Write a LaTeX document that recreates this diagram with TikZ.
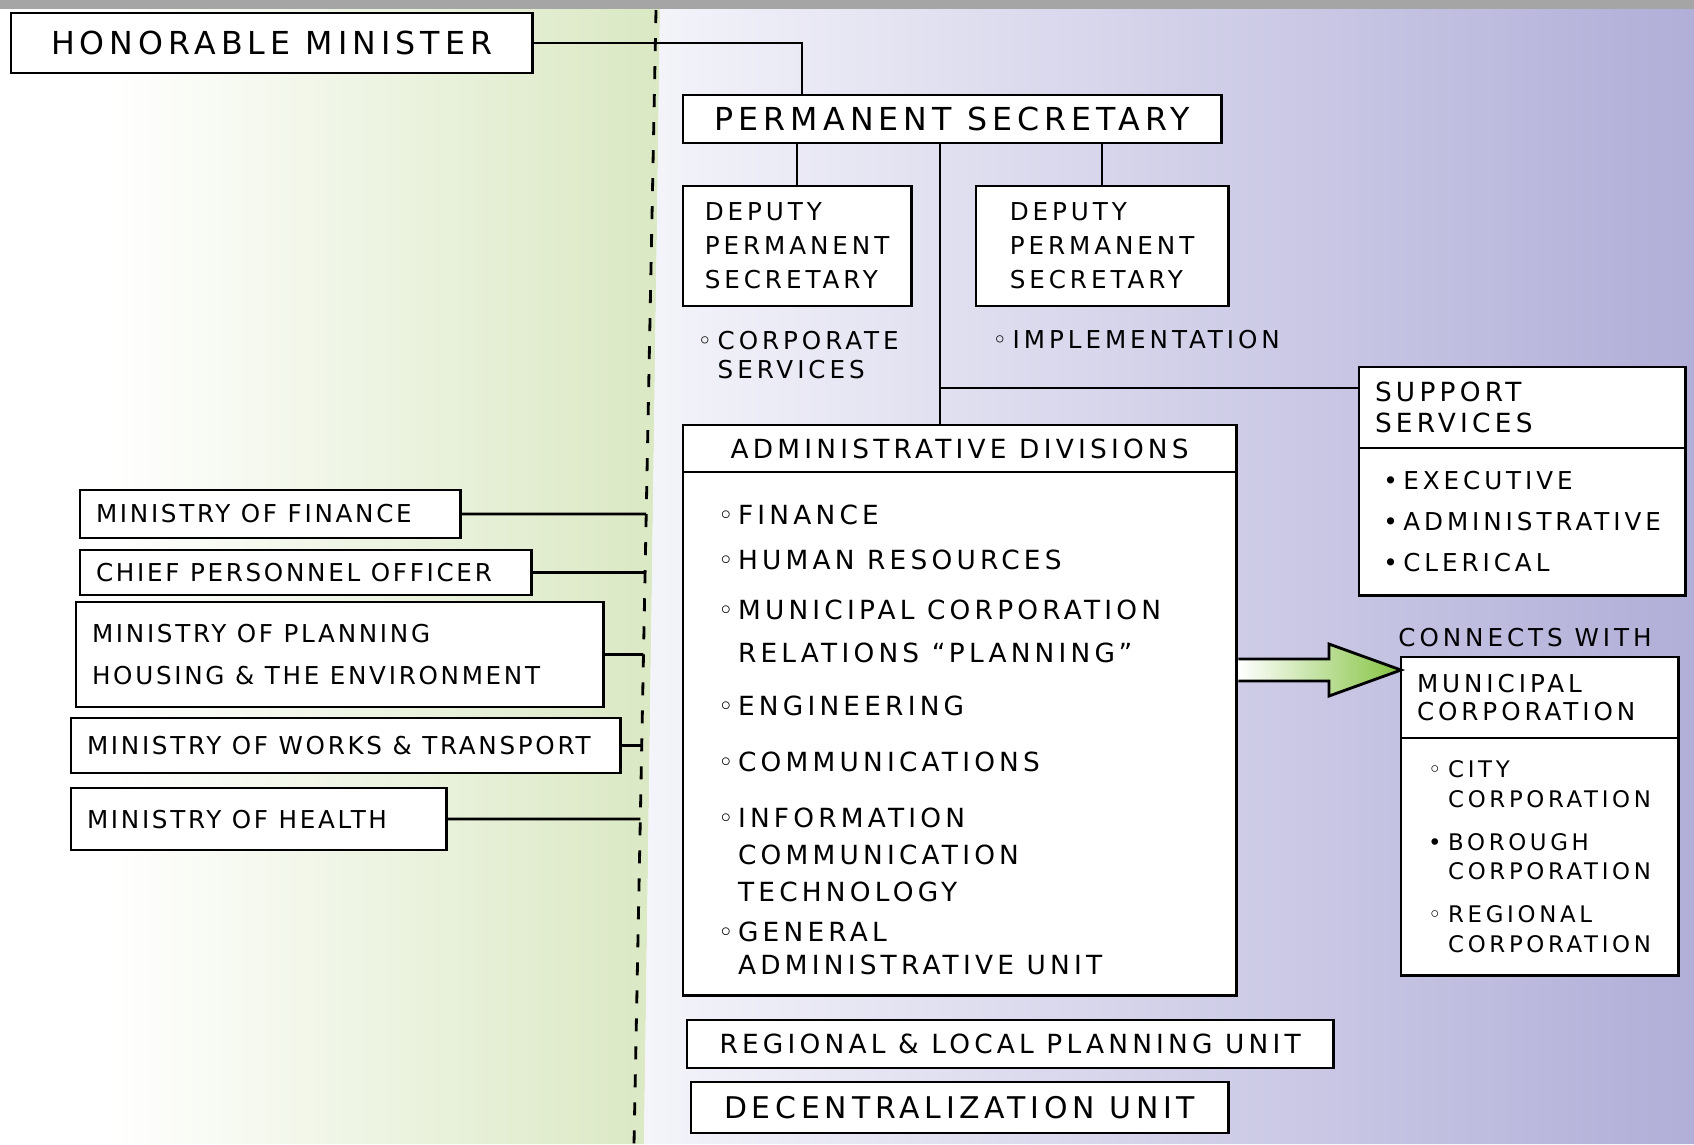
\documentclass[tikz,border=0pt]{standalone}
\usepackage{fontspec}
\usepackage{xcolor}
\usepackage{tikz}
\usetikzlibrary{shapes,arrows,positioning,calc}
\setmainfont{DejaVu Sans}
\newfontfamily\handwide{DejaVu Sans}[LetterSpace=16]
\newfontfamily\handnarrow{DejaVu Sans}[LetterSpace=11]
\newcommand{\handsize}[2]{\handwide\fontsize{#1}{#2}\selectfont}
\newcommand{\narrowsize}[2]{\handnarrow\fontsize{#1}{#2}\selectfont}
\newcommand{\obul}{\makebox[0.2cm][l]{◦}}
\newcommand{\fbul}{\makebox[0.2cm][l]{•}}
\newcommand{\indgap}{\hspace*{0.2cm}}
\definecolor{greenbg}{HTML}{DAE8C3}
\definecolor{lavlight}{HTML}{F4F4FA}
\definecolor{lavender}{HTML}{B1AED8}
\definecolor{graybar}{HTML}{A5A5A5}
\definecolor{arrowgreen}{HTML}{84C341}
\tikzstyle{box} = [draw, fill=white, rectangle, line width=0.8pt, outer sep=0pt,
inner xsep=0.16cm, inner ysep=0.08cm]
\tikzstyle{ministry} = [box, anchor=north west, align=flush left, font=\narrowsize{7}{9}]
\tikzstyle{note} = [inner sep=0pt, align=left, font=\handsize{7}{8.2}]
\tikzstyle{link} = [draw, line width=0.8pt]
\tikzstyle{divider} = [draw, line width=0.8pt, dash pattern=on 1.3mm off 1.5mm]

\begin{document}
\begin{tikzpicture}[x=0.01cm, y=-0.01cm]
\useasboundingbox (0,0) rectangle (1694,1144);

% Background
\fill [white] (0,0) rectangle (1694,1144);
\shade [left color=white, right color=greenbg] (110,9) -- (660,9) -- (644,1144) -- (110,1144) -- cycle;
\shade [left color=lavlight, right color=lavender] (660,9) -- (1694,9) -- (1694,1144) -- (644,1144) -- cycle;
\fill [graybar] (0,0) rectangle (1694,9);
\coordinate (divtop) at (656,10);
\coordinate (divbot) at (634,1144);
\draw [divider] (divtop) -- (divbot);

% Place nodes
\node [box, anchor=north west, minimum width=5.21cm, minimum height=0.60cm,
  font=\handsize{9}{11}](minister) at (11,13) {HONORABLE MINISTER};
\node [box, anchor=north west, minimum width=5.38cm, minimum height=0.48cm,
  font=\handsize{9}{10}](permsec) at (683,95) {PERMANENT SECRETARY};
\node [box, anchor=north west, minimum width=2.28cm, minimum height=1.20cm, align=left,
  font=\handsize{7}{9.7}](dpscorp) at (683,186) {DEPUTY\\PERMANENT\\SECRETARY};
\node [box, anchor=north west, minimum width=2.52cm, minimum height=1.20cm, align=left,
  font=\handsize{7}{9.7}](dpsimpl) at (976,186) {DEPUTY\\PERMANENT\\SECRETARY};
\node [note, anchor=west](corpnote) at (697,355) {\obul CORPORATE\\\indgap SERVICES};
\node [note, anchor=west](implnote) at (992,340) {\obul IMPLEMENTATION};

\node [box, anchor=north west, text width=2.94cm, minimum height=0.81cm, align=flush left,
  font=\handsize{7.5}{8.8}](supporthead) at (1359,367) {SUPPORT\\SERVICES};
\node [box, below=0pt of supporthead, minimum width=3.26cm, minimum height=1.47cm, align=left,
  font=\handsize{7}{11.6}](supportlist) {\fbul EXECUTIVE\\\fbul ADMINISTRATIVE\\\fbul CLERICAL};

\node [box, anchor=north west, minimum width=5.53cm, minimum height=0.47cm,
  font=\handsize{7.5}{9}](adminhead) at (683,425) {ADMINISTRATIVE DIVISIONS};
\node [box, below=0pt of adminhead, minimum width=5.53cm, minimum height=5.23cm, text width=4.83cm,
  align=flush left, font=\handsize{7.5}{10.5}](adminlist) {\rule{0pt}{9pt}\obul FINANCE\\[0.83mm]
  \obul HUMAN RESOURCES\\[1.26mm]
  \obul MUNICIPAL CORPORATION\\[0.62mm]
  \indgap RELATIONS “PLANNING”\\[1.59mm]
  \obul ENGINEERING\\[1.91mm]
  \obul COMMUNICATIONS\\[1.91mm]
  \obul INFORMATION\\
  \indgap COMMUNICATION\\
  \indgap TECHNOLOGY\\[0.4mm]
  \obul GENERAL\\[-0.46mm]
  \indgap ADMINISTRATIVE UNIT};

\node [note](connects) at (1525,638) {CONNECTS WITH};
\node [box, anchor=north west, text width=2.45cm, minimum height=0.81cm, align=flush left,
  font=\handsize{7}{8}](munihead) at (1401,657) {MUNICIPAL\\CORPORATION};
\node [box, below=0pt of munihead, minimum width=2.77cm, minimum height=2.37cm, align=left,
  font=\handsize{6.5}{8.5}](munilist) {\obul CITY\\\indgap CORPORATION\\[1.3mm]
  \fbul BOROUGH\\\indgap CORPORATION\\[1.3mm]
  \obul REGIONAL\\\indgap CORPORATION};

\node [box, anchor=north west, minimum width=6.46cm, minimum height=0.48cm,
  font=\handsize{7.5}{9}](rlpu) at (687,1020) {REGIONAL \& LOCAL PLANNING UNIT};
\node [box, anchor=north west, minimum width=5.37cm, minimum height=0.51cm,
  font=\handsize{8.5}{9}](decent) at (691,1082) {DECENTRALIZATION UNIT};

\node [ministry, text width=3.48cm, minimum height=0.48cm](mof) at (80,490) {MINISTRY OF FINANCE};
\node [ministry, text width=4.19cm, minimum height=0.45cm](cpo) at (80,550) {CHIEF PERSONNEL OFFICER};
\node [ministry, text width=4.95cm, minimum height=1.05cm, font=\narrowsize{7}{12}](mopl) at (76,602)
  {MINISTRY OF PLANNING\\HOUSING \& THE ENVIRONMENT};
\node [ministry, text width=5.17cm, minimum height=0.55cm](mowt) at (71,718) {MINISTRY OF WORKS \& TRANSPORT};
\node [ministry, text width=3.43cm, minimum height=0.62cm](moh) at (71,788) {MINISTRY OF HEALTH};

% Place lines
\draw [link] (minister.east) -| ($(permsec.north west)+(119,0)$);
\draw [link] (permsec.south -| dpscorp.north) -- (dpscorp.north);
\draw [link] (permsec.south -| dpsimpl.north) -- (dpsimpl.north);
\coordinate (trunk) at ($(permsec.south west)+(257,0)$);
\draw [link] (trunk) -- (trunk |- adminhead.north);
\coordinate (branch) at ($(supporthead.north west)+(0,21)$);
\draw [link] (trunk |- branch) -- (branch);

\draw [link] (mof.east) -- (intersection of divtop--divbot and mof.east--mof.west);
\draw [link] (cpo.east) -- (intersection of divtop--divbot and cpo.east--cpo.west);
\draw [link] (mopl.east) -- (intersection of divtop--divbot and mopl.east--mopl.west);
\draw [link] (mowt.east) -- (intersection of divtop--divbot and mowt.east--mowt.west);
\draw [link] (moh.east) -- (intersection of divtop--divbot and moh.east--moh.west);

% Block arrow
\coordinate (tip) at ($(munihead.north west)+(0,13)$);
\coordinate (tail) at ($(adminlist.east |- tip)+(2,0)$);
\shade [draw, line width=0.8pt, left color=white, right color=arrowgreen]
  ($(tail)+(0,-11)$) -- ($(tip)+(-72,-11)$) -- ($(tip)+(-72,-26)$) -- (tip)
  -- ($(tip)+(-72,26)$) -- ($(tip)+(-72,11)$) -- ($(tail)+(0,11)$);

\end{tikzpicture}
\end{document}
